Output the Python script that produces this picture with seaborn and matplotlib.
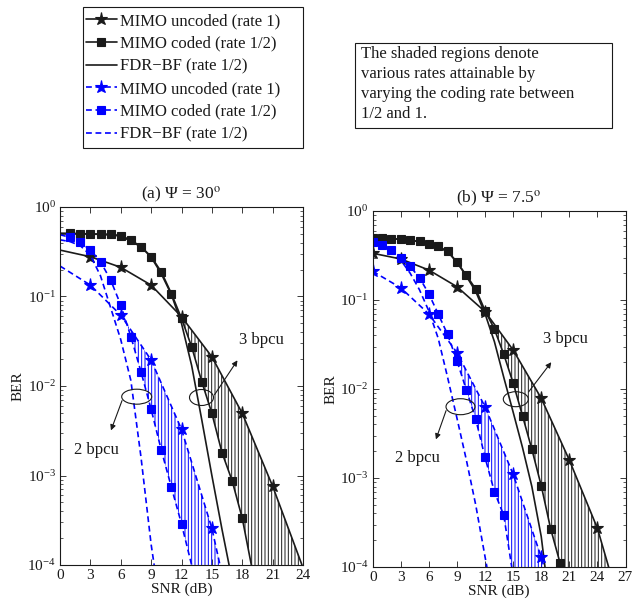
import numpy as np
import matplotlib
matplotlib.use("Agg")
import matplotlib.pyplot as plt
import seaborn as sns
from matplotlib.patches import Ellipse, Rectangle

# ---------------- data ----------------
# (a) Psi = 30 deg
a_unc_x = [0, 3, 6, 9, 12, 15, 18, 21, 23.9]
a_unc_y = [0.33, 0.278, 0.212, 0.134, 0.0594, 0.0212, 0.00495, 0.00076, 0.0001]
a_cod_x = [0, 1, 2, 3, 4, 5, 6, 7, 8, 9, 10, 11, 12, 13, 14, 15, 16, 17, 18, 18.9]
a_cod_y = [0.51, 0.508, 0.505, 0.5, 0.499, 0.496, 0.478, 0.428, 0.36, 0.279, 0.189,
           0.108, 0.057, 0.0275, 0.0112, 0.00495, 0.0018, 0.000875, 0.000333, 0.0001]
a_fdr_x = [0, 2, 4, 6, 8, 9, 10, 11, 12, 13, 14, 15, 16, 16.7]
a_fdr_y = [0.5, 0.5, 0.495, 0.475, 0.36, 0.275, 0.18, 0.105, 0.05, 0.017, 0.0042,
           0.001, 0.00025, 0.0001]
a_bunc_x = [0, 3, 6, 9, 12, 15, 15.8]
a_bunc_y = [0.219, 0.134, 0.062, 0.0195, 0.00328, 0.000257, 0.0001]
a_bcod_x = [0, 1, 2, 3, 4, 5, 6, 7, 8, 9, 10, 11, 12, 13]
a_bcod_y = [0.49, 0.458, 0.403, 0.331, 0.245, 0.153, 0.0804, 0.0356, 0.0144, 0.0055,
            0.00193, 0.00074, 0.000288, 0.0001]
a_bfdr_x = [0, 1, 2, 3, 4, 5, 6, 7, 8, 9, 9.3]
a_bfdr_y = [0.43, 0.41, 0.37, 0.29, 0.17, 0.075, 0.033, 0.0115, 0.0016, 0.00017, 0.0001]

# (b) Psi = 7.5 deg
b_unc_x = [0, 3, 6, 9, 12, 15, 18, 21, 24, 25.2]
b_unc_y = [0.335, 0.289, 0.217, 0.141, 0.074, 0.0274, 0.00787, 0.00159, 0.000272, 0.0001]
b_cod_x = [0, 1, 2, 3, 4, 5, 6, 7, 8, 9, 10, 11, 12, 13, 14, 15, 16, 17, 18, 19, 20, 20.15]
b_cod_y = [0.50, 0.497, 0.49, 0.48, 0.47, 0.455, 0.43, 0.40, 0.355, 0.266, 0.19, 0.133,
           0.076, 0.047, 0.0245, 0.0117, 0.005, 0.0021, 0.00082, 0.00027, 0.000112, 0.0001]
b_fdr_x = [0, 2, 4, 6, 8, 9, 10, 11, 12, 13, 14, 15, 16, 17, 18, 18.4]
b_fdr_y = [0.5, 0.49, 0.47, 0.43, 0.35, 0.265, 0.185, 0.125, 0.07, 0.034, 0.0135,
           0.0055, 0.0022, 0.0008, 0.00022, 0.0001]
b_bunc_x = [0, 3, 6, 9, 12, 15, 18, 18.3]
b_bunc_y = [0.21, 0.137, 0.0695, 0.0256, 0.0063, 0.0011, 0.000129, 0.0001]
b_bcod_x = [0, 1, 2, 3, 4, 5, 6, 7, 8, 9, 10, 11, 12, 13, 14, 14.85]
b_bcod_y = [0.45, 0.41, 0.36, 0.30, 0.238, 0.178, 0.117, 0.0695, 0.041, 0.0207, 0.0098,
            0.0046, 0.0017, 0.0007, 0.00038, 0.0001]
b_bfdr_x = [0, 1, 2, 3, 4, 5, 6, 7, 8, 9, 10, 11, 12, 12.2]
b_bfdr_y = [0.45, 0.41, 0.35, 0.28, 0.2, 0.13, 0.075, 0.037, 0.0135, 0.0047, 0.0016,
            0.0005, 0.00013, 0.0001]

legend_labels = ["MIMO uncoded (rate 1)", "MIMO coded (rate 1/2)", "FDR\u2212BF (rate 1/2)",
                 "MIMO uncoded (rate 1)", "MIMO coded (rate 1/2)", "FDR\u2212BF (rate 1/2)"]
titles = ["(a) \u03A8 = 30$^{\\mathrm{o}}$", "(b) \u03A8 = 7.5$^{\\mathrm{o}}$"]
box_text = ("The shaded regions denote\nvarious rates attainable by\n"
            "varying the coding rate between\n1/2 and 1.")

# ---------------- style ----------------
sns.set_theme(style="white")
plt.rcParams["font.family"] = ["Liberation Serif", "DejaVu Serif"]
plt.rcParams.update({
    "mathtext.fontset": "stix",
    "xtick.direction": "in", "ytick.direction": "in",
    "xtick.top": True, "ytick.right": True,
    "xtick.bottom": True, "ytick.left": True,
    "xtick.major.size": 4, "ytick.major.size": 4,
    "ytick.minor.size": 2.2, "xtick.minor.size": 0,
    "xtick.major.width": 0.6, "ytick.major.width": 0.6, "ytick.minor.width": 0.5,
    "axes.edgecolor": "k", "axes.linewidth": 0.8,
    "xtick.color": "k", "ytick.color": "k", "text.color": "k", "axes.labelcolor": "k",
    "hatch.linewidth": 0.7,
})

W, H = 633, 607
fig = plt.figure(figsize=(W / 100, H / 100), dpi=100)


def fx(x):
    return x / W


def fy(y):
    return 1 - y / H


ax_a = fig.add_axes([fx(60), fy(565), (303 - 60) / W, (565 - 207) / H])
ax_b = fig.add_axes([fx(372.7), fy(567), (625.5 - 372.7) / W, (567 - 211) / H])

BLUE = "#0000FF"


def draw(ax, x, y, color, dashed, marker, ms, mev):
    n0 = len(ax.lines)
    sns.lineplot(x=x, y=y, ax=ax, color=color, marker=marker, markersize=ms,
                 markevery=mev, markerfacecolor=color, markeredgecolor=color,
                 markeredgewidth=0.8, lw=1.2, sort=False, estimator=None)
    ln = ax.lines[n0]
    if dashed:
        ln.set_dashes([3.5, 2.2])
    return ln


def hatch(ax, xl, yl, xu, yu, color, pat):
    xg = np.linspace(0, max(xu[-1], xl[-1]), 1200)
    ll = np.interp(xg, xl, np.log10(yl), right=-6)
    lu = np.interp(xg, xu, np.log10(yu), right=-6)
    lo = 10 ** np.maximum(ll, -4.0)
    up = 10 ** np.maximum(lu, -4.0)
    ax.fill_between(xg, lo, up, where=up > lo, interpolate=True, facecolor="none",
                    edgecolor=color, hatch=pat, linewidth=0, zorder=1)


panels = [
    (ax_a, (a_unc_x, a_unc_y), (a_cod_x, a_cod_y), (a_fdr_x, a_fdr_y),
     (a_bunc_x, a_bunc_y), (a_bcod_x, a_bcod_y), (a_bfdr_x, a_bfdr_y), 24, False),
    (ax_b, (b_unc_x, b_unc_y), (b_cod_x, b_cod_y), (b_fdr_x, b_fdr_y),
     (b_bunc_x, b_bunc_y), (b_bcod_x, b_bcod_y), (b_bfdr_x, b_bfdr_y), 27, True),
]

handles = None
for i, (ax, unc, cod, fdr, bunc, bcod, bfdr, xmax, first_marker) in enumerate(panels):
    ax.set_yscale("log")
    hatch(ax, cod[0], cod[1], unc[0], unc[1], "k", "|||||")
    hatch(ax, bcod[0], bcod[1], bunc[0], bunc[1], BLUE, "|||||")
    s = 0 if first_marker else 1
    h1 = draw(ax, unc[0], unc[1], "k", False, "*", 9.5, list(range(s, len(unc[0]) - 1)))
    h2 = draw(ax, cod[0], cod[1], "k", False, "s", 5.2, list(range(s, len(cod[0]) - 1)))
    h3 = draw(ax, fdr[0], fdr[1], "k", False, None, 0, None)
    h4 = draw(ax, bunc[0], bunc[1], BLUE, True, "*", 9.5, list(range(s, len(bunc[0]) - 1)))
    h5 = draw(ax, bcod[0], bcod[1], BLUE, True, "s", 5.2, list(range(s, len(bcod[0]) - 1)))
    h6 = draw(ax, bfdr[0], bfdr[1], BLUE, True, None, 0, None)
    if handles is None:
        handles = [h1, h2, h3, h4, h5, h6]
    ax.set_xlim(0, xmax)
    ax.set_ylim(1e-4, 1)
    ax.set_xticks(list(range(0, xmax + 1, 3)))
    ax.set_yticks([1e-4, 1e-3, 1e-2, 1e-1, 1])
    ax.tick_params(axis="both", labelsize=11, pad=3)
    ax.set_xlabel("SNR (dB)", fontsize=11, labelpad=0)
    ax.set_ylabel("BER", fontsize=11, labelpad=2)
    ax.set_title(titles[i], fontsize=12.5, pad=6)
    if ax.get_legend() is not None:
        ax.get_legend().remove()

# ---------------- annotations (pixel positions of the reference) ----------------
def ellipse(cx, cy, w, h):
    fig.add_artist(Ellipse((fx(cx), fy(cy)), w / W, h / H, transform=fig.transFigure,
                           facecolor="none", edgecolor="k", lw=0.8))


def arrow(x0, y0, x1, y1):
    fig.add_artist(matplotlib.patches.FancyArrowPatch(
        (fx(x0), fy(y0)), (fx(x1), fy(y1)), transform=fig.transFigure,
        arrowstyle="-|>", mutation_scale=8, lw=0.8, color="k"))


ellipse(136.7, 396.7, 30, 15)
arrow(123, 398, 110, 433)
fig.text(fx(96), fy(450), "2 bpcu", fontsize=12, ha="center", va="center")
ellipse(201.5, 397.5, 24, 16)
arrow(213, 397, 239, 358)
fig.text(fx(261), fy(340), "3 bpcu", fontsize=12, ha="center", va="center")

ellipse(460.5, 406.7, 29, 16)
arrow(447, 408, 435, 442)
fig.text(fx(417.5), fy(457.5), "2 bpcu", fontsize=12, ha="center", va="center")
ellipse(515.8, 399.2, 25, 15)
arrow(527, 394, 553, 360)
fig.text(fx(565.8), fy(339), "3 bpcu", fontsize=12, ha="center", va="center")

# ---------------- legend and text box ----------------
fig.add_artist(Rectangle((fx(83.3), fy(148.3)), (303.3 - 83.3) / W, (148.3 - 7.3) / H,
                         transform=fig.transFigure, facecolor="white", edgecolor="k", lw=0.8))
leg = fig.legend(handles, legend_labels, loc="upper left",
                 bbox_to_anchor=(fx(86), fy(13)), bbox_transform=fig.transFigure,
                 frameon=False, fontsize=12, handlelength=1.85, handletextpad=0.2,
                 labelspacing=0.4, borderpad=0, borderaxespad=0, numpoints=1)

fig.add_artist(Rectangle((fx(355), fy(128.3)), (611.7 - 355) / W, (128.3 - 43.3) / H,
                         transform=fig.transFigure, facecolor="white", edgecolor="k", lw=0.8))
fig.text(fx(361), fy(46), box_text, fontsize=12, ha="left", va="top", linespacing=1.33)

fig.savefig("out.png", dpi=100)
